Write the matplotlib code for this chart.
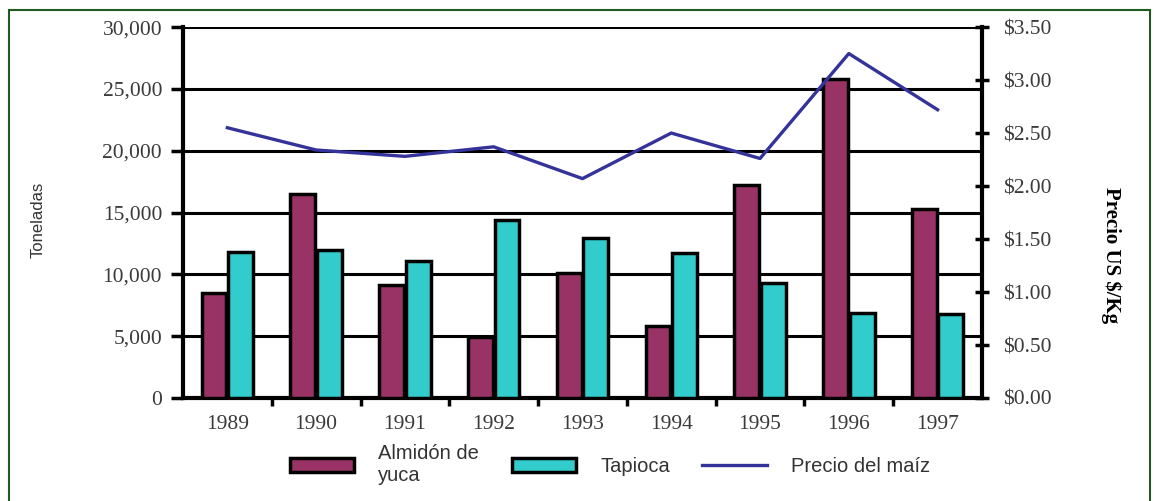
import numpy as np
import matplotlib
matplotlib.use("Agg")
import matplotlib.pyplot as plt
from matplotlib.patches import Rectangle
from matplotlib.ticker import FuncFormatter

years = ["1989", "1990", "1991", "1992", "1993", "1994", "1995", "1996", "1997"]
almidon = [8500, 16500, 9100, 4900, 10100, 5800, 17200, 25800, 15300]
tapioca = [11800, 12000, 11100, 14400, 12900, 11700, 9300, 6900, 6800]
precio = [2.55, 2.34, 2.28, 2.37, 2.07, 2.50, 2.26, 3.25, 2.72]

c_alm = "#993366"
c_tap = "#33CCCC"
c_line = "#333399"

fig = plt.figure(figsize=(11.55, 5.01), dpi=100)
fig.patches.append(Rectangle((0.008, -0.1), 0.988, 1.08, transform=fig.transFigure,
                             fill=False, edgecolor="#1f5a1f", linewidth=1.5))

ax = fig.add_axes([0.1584, 0.2056, 0.6918, 0.7404])
x = np.arange(len(years))
w = 0.28
ax.bar(x - w / 2 - 0.01, almidon, w, color=c_alm, edgecolor="black", linewidth=2.5,
       label="Almidón de\nyuca", zorder=3)
ax.bar(x + w / 2 + 0.01, tapioca, w, color=c_tap, edgecolor="black", linewidth=2.5,
       label="Tapioca", zorder=3)

ax.set_xlim(-0.5, len(years) - 0.5)
ax.set_ylim(0, 30000)
ax.set_yticks(np.arange(0, 30001, 5000))
ax.yaxis.set_major_formatter(FuncFormatter(lambda v, p: f"{int(v):,}"))
ax.grid(axis="y", color="black", linewidth=2.2, zorder=0)
ax.set_axisbelow(True)
ax.set_xticks(x)
ax.set_xticklabels(years)
ax.set_xticks(np.arange(0.5, len(years) - 1, 1.0), minor=True)
ax.tick_params(axis="x", which="major", length=0, pad=12)
ax.tick_params(axis="x", which="minor", length=6, width=2.5, direction="out")
ax.tick_params(axis="y", length=9, width=2.5, direction="out", pad=6)
for lab in ax.get_xticklabels() + ax.get_yticklabels():
    lab.set_fontfamily("Liberation Serif")
    lab.set_fontsize(15.5)
    lab.set_color("#3a3a3a")
for s in ["left", "bottom", "right"]:
    ax.spines[s].set_linewidth(3)
ax.spines["top"].set_visible(False)
ax.set_ylabel("Toneladas", fontfamily="Liberation Sans", fontsize=12, color="#333333")
ax.yaxis.set_label_coords(-0.172, 0.48)

ax2 = ax.twinx()
ax2.plot(x, precio, color=c_line, linewidth=2.4, label="Precio del maíz", zorder=4)
ax2.set_ylim(0, 3.5)
ax2.set_yticks(np.arange(0, 3.51, 0.5))
ax2.yaxis.set_major_formatter(FuncFormatter(lambda v, p: f"${v:.2f}"))
ax2.tick_params(axis="y", length=10, width=2.5, direction="inout", pad=10)
for lab in ax2.get_yticklabels():
    lab.set_fontfamily("Liberation Serif")
    lab.set_fontsize(15.5)
    lab.set_color("#3a3a3a")
for s in ax2.spines.values():
    s.set_visible(False)
ax2.set_ylabel("Precio US $/Kg", fontfamily="Liberation Serif", fontsize=15, fontweight="bold",
               rotation=-90, va="center")
ax2.yaxis.set_label_coords(1.162, 0.385)

h1, l1 = ax.get_legend_handles_labels()
h2, l2 = ax2.get_legend_handles_labels()
leg = fig.legend(h1 + h2, l1 + l2, loc="lower center", bbox_to_anchor=(0.528, -0.005), ncol=3,
                 frameon=False, prop={"family": "Liberation Sans", "size": 14.5},
                 handlelength=3.2, handleheight=0.7, columnspacing=1.6, handletextpad=1.2)
for t in leg.get_texts():
    t.set_color("#333333")

fig.savefig("out.png", dpi=100)
